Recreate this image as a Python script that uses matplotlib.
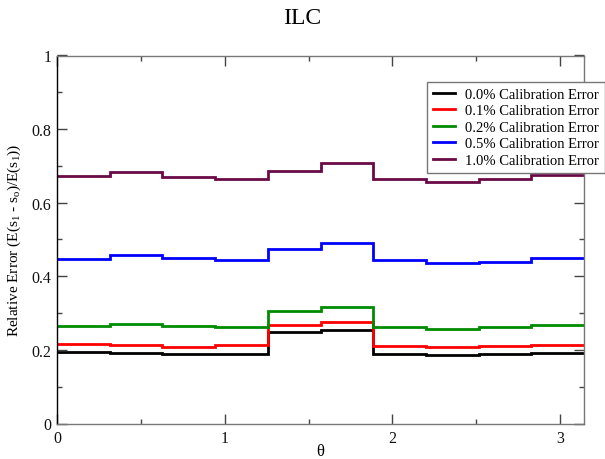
import numpy as np
import matplotlib
matplotlib.use("Agg")
import matplotlib.pyplot as plt
from matplotlib.ticker import MultipleLocator, FuncFormatter
from matplotlib.lines import Line2D

plt.rcParams['font.family'] = ['Liberation Serif', 'DejaVu Serif']
plt.rcParams['mathtext.fontset'] = 'custom'
plt.rcParams['mathtext.rm'] = 'Liberation Serif'
plt.rcParams['mathtext.it'] = 'Liberation Serif:italic'

n_bins = 10
labels = ["0.0% Calibration Error", "0.1% Calibration Error", "0.2% Calibration Error",
          "0.5% Calibration Error", "1.0% Calibration Error"]
colors = ["#000000", "#ff0000", "#008c00", "#0000ff", "#6b0a48"]
err_00 = [0.195, 0.191, 0.188, 0.190, 0.249, 0.253, 0.188, 0.185, 0.188, 0.192]
err_01 = [0.216, 0.214, 0.209, 0.212, 0.267, 0.275, 0.210, 0.207, 0.210, 0.214]
err_02 = [0.266, 0.270, 0.265, 0.263, 0.306, 0.316, 0.261, 0.257, 0.261, 0.267]
err_05 = [0.447, 0.457, 0.449, 0.445, 0.474, 0.490, 0.443, 0.436, 0.440, 0.451]
err_10 = [0.673, 0.684, 0.671, 0.665, 0.686, 0.708, 0.665, 0.655, 0.665, 0.675]
series = [err_00, err_01, err_02, err_05, err_10]

edges = np.linspace(0, np.pi, n_bins + 1)

fig = plt.figure(figsize=(6.05, 4.6), dpi=100)
ax = fig.add_axes([57/605, 1-424.5/460, (584-57)/605, (424.5-56.5)/460])

for vals, c, lab in zip(series, colors, labels):
    ax.stairs(vals, edges, color=c, linewidth=2.0, label=lab, baseline=None)

ax.set_xlim(0, np.pi)
ax.set_ylim(0, 1)
ax.xaxis.set_major_locator(MultipleLocator(1))
ax.xaxis.set_minor_locator(MultipleLocator(0.5))
ax.yaxis.set_major_locator(MultipleLocator(0.2))
ax.yaxis.set_minor_locator(MultipleLocator(0.1))
ax.xaxis.set_major_formatter(FuncFormatter(lambda v, p: f"{v:g}"))
ax.yaxis.set_major_formatter(FuncFormatter(lambda v, p: f"{v:g}"))
ax.tick_params(which='both', direction='in', top=True, right=True, labelsize=11.5,
               color='#444444', labelcolor='#111111')
ax.tick_params(which='major', length=7, width=1)
ax.tick_params(which='minor', length=3.8, width=1)
ax.tick_params(axis='y', pad=4)
ax.tick_params(axis='x', pad=5)
for s in ['top', 'right', 'bottom']:
    ax.spines[s].set_color('#777777')
ax.spines['left'].set_color('black')
for s in ax.spines.values():
    s.set_linewidth(1.0)

ax.set_xlabel("θ", fontsize=12)
ax.xaxis.set_label_coords(0.5, -(444 - 424.5) / (424.5 - 56.5))
ax.set_ylabel(r"Relative Error (E(s$_{\mathrm{1}}$ - s$_{\mathrm{o}}$)/E(s$_{\mathrm{1}}$))",
              fontsize=11, labelpad=6)
fig.text(0.5, 1-18/460, "ILC", ha='center', va='center', fontsize=17)

leg = ax.legend(handles=[Line2D([], [], color=c, lw=2.0) for c in colors],
                labels=labels, loc='upper right', bbox_to_anchor=(1.0, 1-83/460),
                bbox_transform=fig.transFigure, fontsize=10.5, frameon=True, fancybox=False,
                framealpha=1, edgecolor='#777777', borderpad=0.4, labelspacing=0.22,
                handlelength=1.5, handletextpad=0.7, borderaxespad=0)
leg.get_frame().set_linewidth(1.0)
leg.set_zorder(5)

fig.savefig("out.png", dpi=100)
